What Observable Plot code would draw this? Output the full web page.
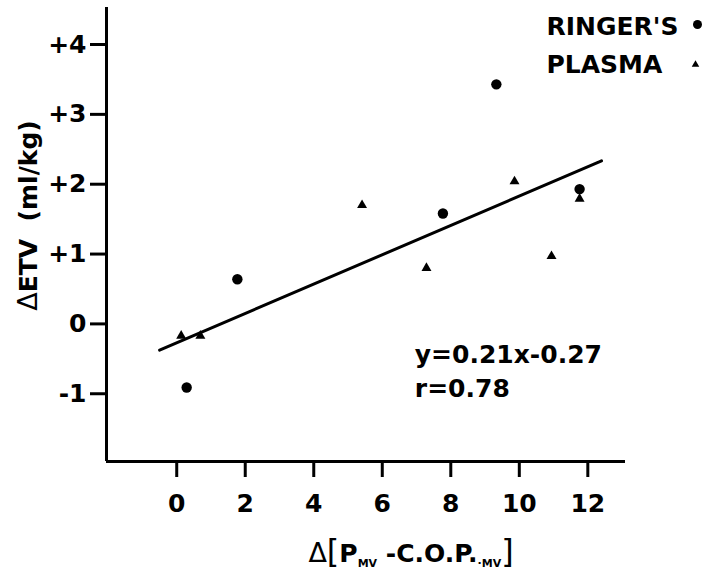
<!DOCTYPE html>
<html><head><meta charset="utf-8">
<script src="https://cdn.jsdelivr.net/npm/d3@7"></script>
<script src="https://cdn.jsdelivr.net/npm/@observablehq/plot@0.6"></script>
<style>body{margin:0;background:#fff;}</style>
</head><body><div id="chart"></div>
<script>
// ---- data ----
const ringerX = [0.29, 1.77, 7.77, 9.33, 11.76];
const ringerY = [-0.91, 0.64, 1.58, 3.43, 1.93];
const plasmaX = [0.13, 0.69, 5.41, 7.29, 9.86, 10.94, 11.76];
const plasmaY = [-0.17, -0.17, 1.70, 0.80, 2.04, 0.97, 1.79];
const fitSlope = 0.21;
const fitIntercept = -0.27;
const fitXExtent = [-0.5, 12.4];
const xTicks = [0, 2, 4, 6, 8, 10, 12];
const yTicks = [-1, 0, 1, 2, 3, 4];
const yTickLabels = ["-1", "0", "+1", "+2", "+3", "+4"];
const seriesNames = ["RINGER'S", "PLASMA"];
const annotationLines = ["y=0.21x-0.27", "r=0.78"];
const annotationAt = [6.95, -0.22];
const yTitle = "\u0394ETV  (ml/kg)";
const xTitle = "\u0394[PMV -C.O.P.\u00b7MV]";
const xDomain = [-2.05, 13.1];
const yDomain = [-1.97, 4.53];

const ringer = ringerX.map((x, i) => ({x, y: ringerY[i]}));
const plasma = plasmaX.map((x, i) => ({x, y: plasmaY[i]}));
const fit = fitXExtent.map(x => ({x, y: fitSlope * x + fitIntercept}));

const plot = Plot.plot({
  width: 703,
  height: 568,
  marginLeft: 106,
  marginRight: 78,
  marginTop: 7,
  marginBottom: 107,
  style: {fontFamily: "DejaVu Sans", fontWeight: "bold", fontSize: "25px", color: "black", background: "white"},
  x: {domain: xDomain, axis: null},
  y: {domain: yDomain, axis: null},
  marks: [
    Plot.axisX({ticks: xTicks, tickSize: 16, tickPadding: 17, strokeWidth: 3, label: null, tickFormat: d => String(d)}),
    Plot.axisY({ticks: yTicks, tickSize: 16, tickPadding: 4, strokeWidth: 3, label: null,
      tickFormat: d => yTickLabels[yTicks.indexOf(d)]}),
    Plot.ruleY([yDomain[0]], {stroke: "black", strokeWidth: 3}),
    Plot.ruleX([xDomain[0]], {stroke: "black", strokeWidth: 3}),
    Plot.line(fit, {x: "x", y: "y", stroke: "black", strokeWidth: 3}),
    Plot.dot(plasma, {x: "x", y: "y", symbol: "triangle", r: 3.7, fill: "black", stroke: null}),
    Plot.dot(ringer, {x: "x", y: "y", symbol: "circle", r: 5.2, fill: "black", stroke: null}),
    Plot.text([annotationLines.join("\n")], {x: () => annotationAt[0], y: () => annotationAt[1], text: d => d,
      textAnchor: "start", lineAnchor: "top", lineHeight: 1.36}),
    // legend
    Plot.text([seriesNames[0]], {text: d => d, frameAnchor: "top-right", dx: -79, dy: 19, textAnchor: "start", lineAnchor: "middle"}),
    Plot.text([seriesNames[1]], {text: d => d, frameAnchor: "top-right", dx: -79, dy: 57, textAnchor: "start", lineAnchor: "middle"}),
    Plot.dot([seriesNames[0]], {frameAnchor: "top-right", dx: 72, dy: 17, symbol: "circle", r: 4.5, fill: "black", stroke: null}),
    Plot.dot([seriesNames[1]], {frameAnchor: "top-right", dx: 70, dy: 57, symbol: "triangle", r: 2.8, fill: "black", stroke: null}),
    // axis titles
    Plot.text([yTitle], {text: d => d, frameAnchor: "left", dx: -78, dy: -19, rotate: -90, textAnchor: "middle", lineAnchor: "middle"}),
    Plot.text([xTitle], {text: d => d, frameAnchor: "bottom", dx: 45, dy: 92, textAnchor: "middle", lineAnchor: "middle"})
  ]
});
document.getElementById("chart").appendChild(plot);

// thinner outline delta in the y title
const ty = d3.select(plot).selectAll("text").filter(function() { return this.textContent === yTitle; });
ty.text(null);
ty.append("tspan").text(yTitle.slice(0, 1)).attr("font-weight", "normal").attr("font-size", 27);
ty.append("tspan").text(yTitle.slice(1));

// render subscripts / tall brackets of the x title
const t = d3.select(plot).selectAll("text").filter(function() { return this.textContent === xTitle; });
t.text(null);
const parts = [
  {s: "\u0394", size: 27, w: "normal"},
  {s: "[", size: 32, w: "normal"},
  {s: "P", size: 25, w: "bold"},
  {s: "MV", size: 11, w: "bold", sub: true},
  {s: " -C.O.P.", size: 25, w: "bold"},
  {s: "\u00b7MV", size: 11, w: "bold", sub: true},
  {s: "]", size: 32, w: "normal"}
];
let shifted = 0;
for (const p of parts) {
  const ts = t.append("tspan").text(p.s).attr("font-size", p.size).attr("font-weight", p.w);
  const target = p.sub ? 5 : 0;
  if (target !== shifted) { ts.attr("dy", target - shifted); shifted = target; }
}
</script>
</body></html>
